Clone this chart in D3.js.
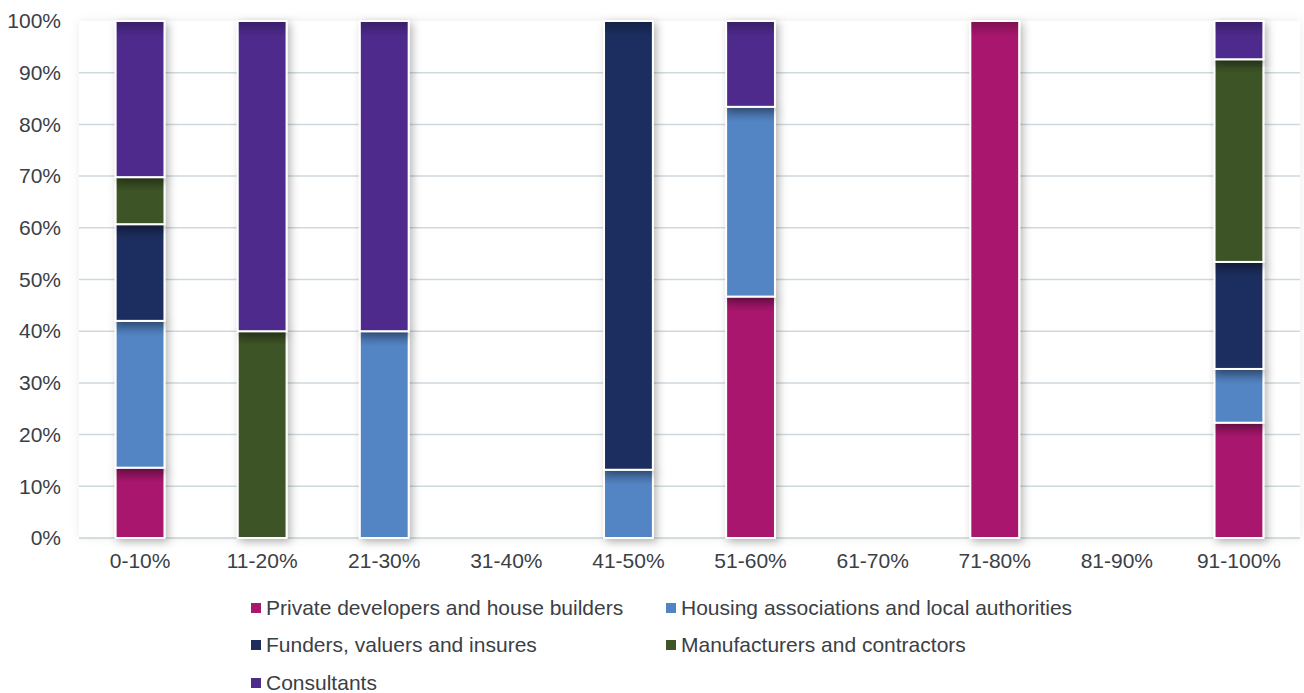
<!DOCTYPE html>
<html>
<head>
<meta charset="utf-8">
<script src="https://cdn.jsdelivr.net/npm/d3@7"></script>
<style>
  body { margin: 0; background: #fff; }
  svg { display: block; font-family: "Liberation Sans", Arial, sans-serif; }
</style>
</head>
<body>
<div id="chart"></div>
<script>
// categories and series (percent of each band)
const categories = ['0-10%', '11-20%', '21-30%', '31-40%', '41-50%', '51-60%', '61-70%', '71-80%', '81-90%', '91-100%'];
const seriesNames = ['Private developers and house builders', 'Housing associations and local authorities',
  'Funders, valuers and insures', 'Manufacturers and contractors', 'Consultants'];
const seriesColors = ['#a8196d', '#5284c4', '#1f2d5e', '#3e5527', '#4e2c8c'];

const privateDev    = [13.6, 0, 0, 0, 0, 46.7, 0, 100, 0, 22.3];
const housingAssoc  = [28.4, 0, 40, 0, 13.2, 36.7, 0, 0, 0, 10.4];
const funders       = [18.7, 0, 0, 0, 86.8, 0, 0, 0, 0, 20.7];
const manufacturers = [9.1, 40, 0, 0, 0, 0, 0, 0, 0, 39.2];
const consultants   = [30.2, 60, 60, 0, 0, 16.6, 0, 0, 0, 7.4];
const yTicks = [0, 10, 20, 30, 40, 50, 60, 70, 80, 90, 100];

const seriesValues = [privateDev, housingAssoc, funders, manufacturers, consultants];
const rows = categories.map((c, i) => {
  const r = { cat: c };
  seriesNames.forEach((s, k) => { r[s] = seriesValues[k][i]; });
  return r;
});

const width = 1304, height = 693;
const fontSize = 21;
const textColor = '#3b4045';
const svg = d3.select('#chart').append('svg')
  .attr('width', width).attr('height', height);

const defs = svg.append('defs');
const shadow = defs.append('filter').attr('id', 'shadow')
  .attr('x', '-50%').attr('y', '-10%').attr('width', '200%').attr('height', '130%');
shadow.append('feDropShadow').attr('dx', 3).attr('dy', 3).attr('stdDeviation', 4)
  .attr('flood-color', '#000').attr('flood-opacity', 0.28);
const areaShadow = defs.append('filter').attr('id', 'areaShadow')
  .attr('x', '-5%').attr('y', '-10%').attr('width', '110%').attr('height', '120%');
areaShadow.append('feDropShadow').attr('dx', 0).attr('dy', 0).attr('stdDeviation', 5)
  .attr('flood-color', '#000').attr('flood-opacity', 0.08);
const topShade = defs.append('linearGradient').attr('id', 'topShade')
  .attr('x1', 0).attr('y1', 0).attr('x2', 0).attr('y2', 1);
topShade.append('stop').attr('offset', '0%').attr('stop-color', '#000').attr('stop-opacity', 0.25);
topShade.append('stop').attr('offset', '100%').attr('stop-color', '#000').attr('stop-opacity', 0);

const x = d3.scaleBand().domain(categories).range([79, 1300])
  .paddingInner(0.6).paddingOuter(0.3);
const y = d3.scaleLinear().domain([0, 100]).range([538, 21]);

// plot area
svg.append('rect').attr('x', 79).attr('y', 21).attr('width', 1221).attr('height', 517)
  .attr('fill', '#fff').attr('filter', 'url(#areaShadow)');

// gridlines
svg.append('g')
  .selectAll('line').data(yTicks.filter(t => t > 0 && t < 100)).join('line')
  .attr('x1', 79).attr('x2', 1300)
  .attr('y1', d => y(d)).attr('y2', d => y(d))
  .attr('stroke', '#cfd9dd').attr('stroke-width', 1.5);
svg.append('line').attr('x1', 79).attr('x2', 1300).attr('y1', y(0)).attr('y2', y(0))
  .attr('stroke', '#d3dcdf').attr('stroke-width', 2);

// y axis labels
const yAxis = d3.axisLeft(y).tickValues(yTicks).tickFormat(d => d + '%').tickSize(0).tickPadding(0);
const yg = svg.append('g').attr('transform', 'translate(61,0)').call(yAxis);
yg.select('.domain').remove();
yg.selectAll('text').attr('font-size', fontSize).attr('fill', textColor)
  .attr('font-family', '"Liberation Sans", Arial, sans-serif');

// x axis labels
const xAxis = d3.axisBottom(x).tickSize(0).tickPadding(0);
const xg = svg.append('g').attr('transform', 'translate(0,553)').call(xAxis);
xg.select('.domain').remove();
xg.selectAll('text').attr('font-size', fontSize).attr('fill', textColor)
  .attr('font-family', '"Liberation Sans", Arial, sans-serif');

// stacked bars
const stacked = d3.stack().keys(seriesNames)(rows);
const layers = svg.append('g').selectAll('g').data(stacked).join('g');
layers.each(function (layer, k) {
  const g = d3.select(this);
  const segs = layer.filter(d => d[1] - d[0] > 0);
  g.selectAll('rect.bar').data(segs).join('rect').attr('class', 'bar')
    .attr('x', d => x(d.data.cat))
    .attr('y', d => y(d[1]))
    .attr('width', x.bandwidth())
    .attr('height', d => y(d[0]) - y(d[1]))
    .attr('fill', seriesColors[k])
    .attr('stroke', '#fff').attr('stroke-width', 2)
    .attr('filter', 'url(#shadow)');
  g.selectAll('rect.shade').data(segs).join('rect').attr('class', 'shade')
    .attr('x', d => x(d.data.cat) + 1)
    .attr('y', d => y(d[1]) + 1)
    .attr('width', x.bandwidth() - 2)
    .attr('height', d => Math.min(14, y(d[0]) - y(d[1]) - 2))
    .attr('fill', 'url(#topShade)');
});

// legend
const legendItems = [
  { name: seriesNames[0], color: seriesColors[0], lx: 251, ly: 608 },
  { name: seriesNames[1], color: seriesColors[1], lx: 666, ly: 608 },
  { name: seriesNames[2], color: seriesColors[2], lx: 251, ly: 645 },
  { name: seriesNames[3], color: seriesColors[3], lx: 666, ly: 645 },
  { name: seriesNames[4], color: seriesColors[4], lx: 251, ly: 683 }
];
const lg = svg.append('g').selectAll('g').data(legendItems).join('g')
  .attr('transform', d => `translate(${d.lx},${d.ly})`);
lg.append('rect').attr('x', 0).attr('y', -5).attr('width', 10).attr('height', 10)
  .attr('fill', d => d.color);
lg.append('text').attr('x', 15).attr('y', 0).attr('dy', '0.35em')
  .attr('font-size', fontSize).attr('fill', textColor).text(d => d.name);
</script>
</body>
</html>
